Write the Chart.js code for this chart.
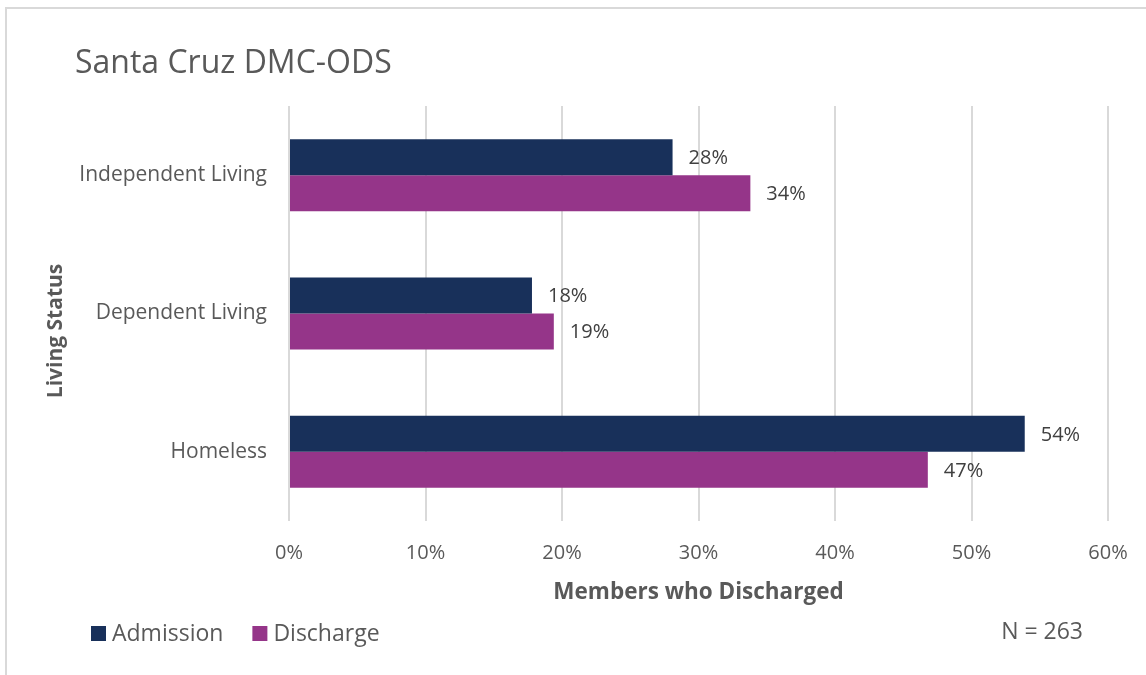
<!DOCTYPE html>
<html>
<head>
<meta charset="utf-8">
<title>Santa Cruz DMC-ODS</title>
<script src="https://cdn.jsdelivr.net/npm/chart.js@4.4.1/dist/chart.umd.min.js"></script>
<style>
  html, body { margin: 0; padding: 0; background: #fff; }
  #wrap { position: relative; width: 1146px; height: 675px; overflow: hidden; }
  #frame { position: absolute; left: 5px; top: 7px; right: -4px; bottom: -4px; border-left: 2px solid #d9d9d9; border-top: 2px solid #d9d9d9; }
  canvas { position: absolute; left: 0; top: 0; }
</style>
</head>
<body>
<div id="wrap">
  <div id="frame"></div>
  <canvas id="livingChart" width="1146" height="675"></canvas>
</div>
<script>
const categories = ['Independent Living', 'Dependent Living', 'Homeless'];
const admission = [28.1, 17.8, 53.9];
const discharge = [33.8, 19.4, 46.8];
const xTicks = [0, 10, 20, 30, 40, 50, 60];
const sampleSize = 263;

const FONT = '"Open Sans", "DejaVu Sans", sans-serif';
const GREY = '#595959';

// percentage next to the end of each bar
const barLabels = {
    id: 'barLabels',
    afterDatasetsDraw(chart) {
        const ctx = chart.ctx;
        ctx.save();
        ctx.font = '20px ' + FONT;
        ctx.fillStyle = '#404040';
        ctx.textAlign = 'left';
        ctx.textBaseline = 'middle';
        chart.data.datasets.forEach((ds, i) => {
            chart.getDatasetMeta(i).data.forEach((bar, j) => {
                ctx.fillText(Math.round(ds.data[j]) + '%', bar.x + 16, bar.y + 1);
            });
        });
        ctx.restore();
    }
};

// title, y axis title, legend row and sample size
const chartText = {
    id: 'chartText',
    afterDraw(chart) {
        const ctx = chart.ctx;
        ctx.save();
        ctx.textBaseline = 'middle';
        ctx.fillStyle = GREY;
        ctx.font = '32px ' + FONT;
        ctx.fillText('Santa Cruz DMC-ODS', 75, 64);

        ctx.save();
        ctx.translate(56, 331);
        ctx.rotate(-Math.PI / 2);
        ctx.textAlign = 'center';
        ctx.font = 'bold 21px ' + FONT;
        ctx.fillText('Living Status', 0, 0);
        ctx.restore();

        ctx.font = '23px ' + FONT;
        let x = 91;
        chart.data.datasets.forEach(ds => {
            ctx.fillStyle = ds.backgroundColor;
            ctx.fillRect(x, 626, 15, 15);
            ctx.fillStyle = GREY;
            ctx.fillText(ds.label, x + 21, 634);
            x += 21 + ctx.measureText(ds.label).width + 29;
        });

        ctx.textAlign = 'right';
        ctx.font = '23px ' + FONT;
        ctx.fillText('N = ' + sampleSize, 1083, 632);
        ctx.restore();
    }
};

new Chart(document.getElementById('livingChart'), {
    type: 'bar',
    data: {
        labels: categories,
        datasets: [{
            label: 'Admission',
            data: admission,
            backgroundColor: '#18305a',
            categoryPercentage: 0.52,
            barPercentage: 1.0
        }, {
            label: 'Discharge',
            data: discharge,
            backgroundColor: '#953589',
            categoryPercentage: 0.52,
            barPercentage: 1.0
        }]
    },
    options: {
        indexAxis: 'y',
        responsive: false,
        animation: false,
        layout: {
            padding: { left: 10, right: 38, top: 106, bottom: 66.6 }
        },
        plugins: {
            legend: { display: false },
            tooltip: { enabled: false }
        },
        scales: {
            x: {
                min: 0,
                max: 60,
                afterBuildTicks(scale) {
                    scale.ticks = xTicks.map(v => ({ value: v }));
                },
                ticks: {
                    callback: v => v + '%',
                    color: GREY,
                    font: { family: FONT, size: 20 },
                    padding: 20
                },
                grid: { color: '#d9d9d9', lineWidth: 2, drawTicks: false },
                border: { display: false },
                title: {
                    display: true,
                    text: 'Members who Discharged',
                    color: GREY,
                    font: { family: FONT, size: 22.5, weight: 'bold' },
                    padding: { top: 0, bottom: 2 }
                },
                afterFit(scale) {
                    // fixed height; end labels may hang into the side padding
                    scale.height = 87.4;
                    scale.paddingLeft = 0;
                    scale.paddingRight = 0;
                }
            },
            y: {
                grid: { display: false, drawTicks: false },
                border: { display: false },
                ticks: {
                    color: GREY,
                    font: { family: FONT, size: 21 },
                    padding: 22
                },
                afterFit(scale) { scale.width = 289 - 10; }
            }
        }
    },
    plugins: [barLabels, chartText]
});
</script>
</body>
</html>
